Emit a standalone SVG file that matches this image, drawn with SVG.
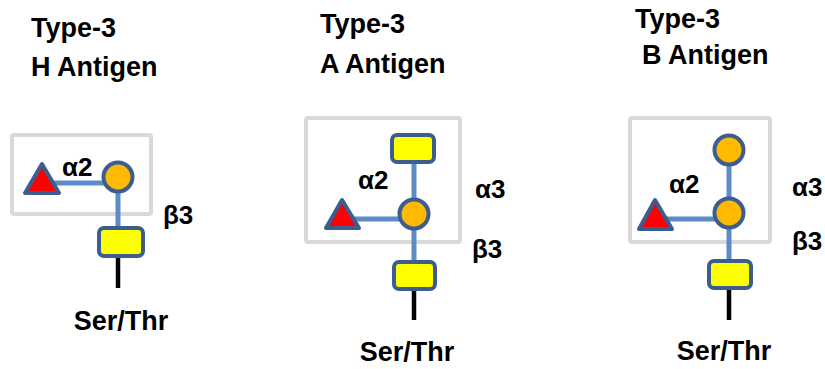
<svg xmlns="http://www.w3.org/2000/svg" width="825" height="369" viewBox="0 0 825 369">
<style>
text{font-family:"Liberation Sans",Arial,sans-serif;font-weight:bold;fill:#000}
.t{font-size:27px}
.s{font-size:27px}
.l{font-size:26px}
.box{fill:none;stroke:#d9d9d9;stroke-width:4}
.link{stroke:#5b8cc8;stroke-width:5;fill:none}
.stem{stroke:#000;stroke-width:4.5}
.fuc{fill:#ff0000;stroke:#3b5d8f;stroke-width:4;stroke-linejoin:round}
.gal{fill:#ffb900;stroke:#3b5d8f;stroke-width:4}
.nac{fill:#ffff00;stroke:#3b5d8f;stroke-width:4}
</style>
<rect width="825" height="369" fill="#fff"/>

<g id="titles">
<text class="t" x="31" y="37">Type-3</text>
<text class="t" x="31" y="76">H Antigen</text>
<text class="t" x="320" y="33">Type-3</text>
<text class="t" x="320" y="73">A Antigen</text>
<text class="t" x="635" y="28">Type-3</text>
<text class="t" x="642" y="64">B Antigen</text>
</g>

<g id="boxes">
<rect class="box" x="12" y="135" width="139" height="79" rx="2"/>
<rect class="box" x="306" y="118" width="154" height="124" rx="2"/>
<rect class="box" x="630" y="118" width="140" height="124" rx="2"/>
</g>

<g id="connectors">
<line class="link" x1="50" y1="183" x2="112" y2="183"/>
<line class="link" x1="118" y1="177" x2="118" y2="236"/>
<line class="stem" x1="118" y1="258" x2="118" y2="288"/>

<line class="link" x1="348" y1="219" x2="408" y2="219"/>
<line class="link" x1="414" y1="160" x2="414" y2="264"/>
<line class="stem" x1="414" y1="290" x2="414" y2="320"/>

<line class="link" x1="663" y1="219" x2="722" y2="219"/>
<line class="link" x1="729" y1="150" x2="729" y2="263"/>
<line class="stem" x1="729" y1="290" x2="729" y2="320"/>
</g>

<g id="h-fuc"><polygon class="fuc" points="25,193 42,164 59,193"/></g>
<g id="h-gal"><circle class="gal" cx="118" cy="177" r="14.5"/></g>
<g id="h-galnac"><rect class="nac" x="99" y="228" width="44" height="28" rx="5"/></g>

<g id="a-galnac-top"><rect class="nac" x="392" y="135" width="42" height="27" rx="5"/></g>
<g id="a-fuc"><polygon class="fuc" points="326,228 342,200 359,228"/></g>
<g id="a-gal"><circle class="gal" cx="414" cy="214" r="14.5"/></g>
<g id="a-galnac"><rect class="nac" x="394" y="262" width="41" height="27" rx="5"/></g>

<g id="b-gal-top"><circle class="gal" cx="729" cy="150" r="14.5"/></g>
<g id="b-fuc"><polygon class="fuc" points="639,229 655,200 672,229"/></g>
<g id="b-gal"><circle class="gal" cx="729" cy="213" r="14.5"/></g>
<g id="b-galnac"><rect class="nac" x="709" y="261" width="42" height="27" rx="5"/></g>

<g id="labels">
<text class="l" x="62" y="176">α2</text>
<text class="l" x="163" y="224">β3</text>
<text class="s" x="121" y="330" text-anchor="middle">Ser/Thr</text>

<text class="l" x="358" y="189">α2</text>
<text class="l" x="475" y="198">α3</text>
<text class="l" x="472" y="258">β3</text>
<text class="s" x="407" y="361" text-anchor="middle">Ser/Thr</text>

<text class="l" x="669" y="193">α2</text>
<text class="l" x="792" y="196">α3</text>
<text class="l" x="792" y="250">β3</text>
<text class="s" x="724" y="360" text-anchor="middle">Ser/Thr</text>
</g>
</svg>
